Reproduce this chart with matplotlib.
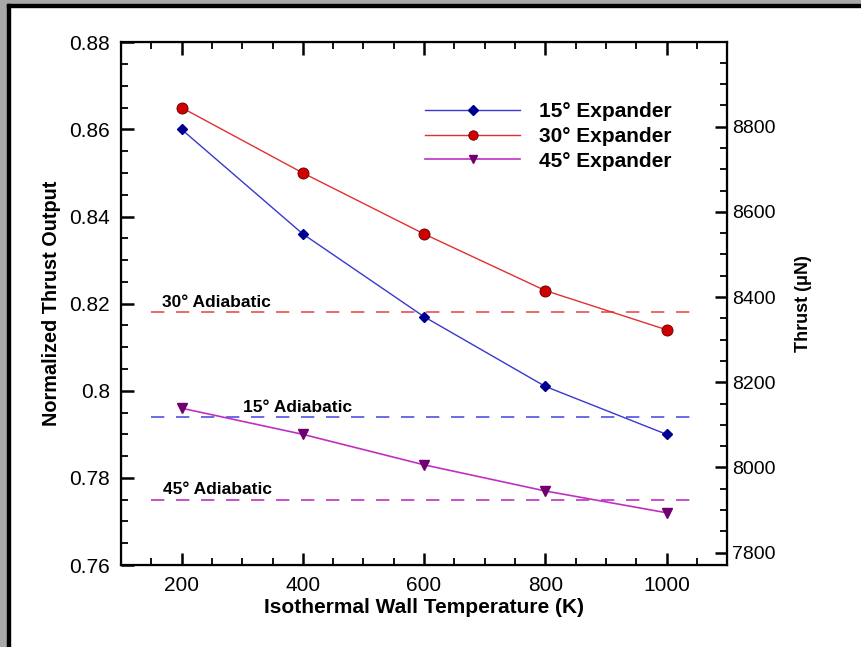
import matplotlib
matplotlib.use('Agg')
import matplotlib.pyplot as plt
from matplotlib.patches import Rectangle
from matplotlib.ticker import MultipleLocator

plt.rcParams['font.family'] = ['Liberation Sans', 'DejaVu Sans']

# data
temps = [200, 400, 600, 800, 1000]
exp15 = [0.860, 0.836, 0.817, 0.801, 0.790]
exp30 = [0.865, 0.850, 0.836, 0.823, 0.814]
exp45 = [0.796, 0.790, 0.783, 0.777, 0.772]
adia_x = [150, 1050]
adia15 = 0.794
adia30 = 0.818
adia45 = 0.775
thrust_per_unit = 10225  # right axis scale (uN per normalized unit)

fig = plt.figure(figsize=(8.61, 6.47), dpi=100)

# screenshot frame: gray strip + black line on top and left
fig.patches.append(Rectangle((0, 1 - 4/647), 1, 4/647, transform=fig.transFigure,
                             color='#a8a8a8', zorder=0))
fig.patches.append(Rectangle((0, 0), 7/861, 1, transform=fig.transFigure,
                             color='#a8a8a8', zorder=0))
fig.patches.append(Rectangle((7/861, 1 - 7/647), 1, 3/647, transform=fig.transFigure,
                             color='black', zorder=1))
fig.patches.append(Rectangle((7/861, 0), 3/861, 1 - 4/647, transform=fig.transFigure,
                             color='black', zorder=1))

ax = fig.add_axes([0.1405, 0.1267, 0.704, 0.808])

ax.plot(adia_x, [adia30, adia30], color='#e85050', lw=1.2, dashes=(8, 7))
ax.plot(adia_x, [adia15, adia15], color='#5050e0', lw=1.2, dashes=(8, 7))
ax.plot(adia_x, [adia45, adia45], color='#c030c0', lw=1.2, dashes=(8, 7))

l15, = ax.plot(temps, exp15, color='#3838d0', lw=1.0, marker='D', ms=5.5,
               mfc='#000090', mec='#000090')
l30, = ax.plot(temps, exp30, color='#e03030', lw=1.0, marker='o', ms=8,
               mfc='#d00000', mec='#600000', mew=0.6)
l45, = ax.plot(temps, exp45, color='#c030c0', lw=1.2, marker='v', ms=7,
               mfc='#700070', mec='#700070')

ax.text(168, adia30 + 0.0013, '30\u00b0 Adiabatic', fontsize=12.5, fontweight='bold')
ax.text(302, adia15 + 0.0012, '15\u00b0 Adiabatic', fontsize=12.5, fontweight='bold')
ax.text(170, adia45 + 0.0012, '45\u00b0 Adiabatic', fontsize=12.5, fontweight='bold')

ax.legend([l15, l30, l45],
          ['15\u00b0 Expander', '30\u00b0 Expander', '45\u00b0 Expander'],
          loc='upper left', bbox_to_anchor=(0.47, 0.921), frameon=False,
          prop={'weight': 'bold', 'size': 15}, handlelength=4.6, handletextpad=0.9,
          labelspacing=0.27, markerscale=0.85)

ax.set_xlim(100, 1100)
ax.set_ylim(0.76, 0.88)
ax.xaxis.set_major_locator(MultipleLocator(200))
ax.xaxis.set_minor_locator(MultipleLocator(50))
ax.yaxis.set_minor_locator(MultipleLocator(0.005))
ax.set_yticks([0.76, 0.78, 0.8, 0.82, 0.84, 0.86, 0.88])
ax.set_yticklabels(['0.76', '0.78', '0.8', '0.82', '0.84', '0.86', '0.88'])
ax.tick_params(which='both', direction='in', top=True, labelsize=15, width=1.3)
ax.tick_params(which='major', length=9, width=1.8)
ax.tick_params(which='minor', length=5)
ax.tick_params(axis='x', pad=8)
ax.tick_params(axis='y', pad=8)
ax.set_xlabel('Isothermal Wall Temperature (K)', fontsize=15, fontweight='bold', labelpad=2)
ax.set_ylabel('Normalized Thrust Output', fontsize=14.3, fontweight='bold', labelpad=6)
for s in ax.spines.values():
    s.set_linewidth(1.6)

ax2 = ax.twinx()
ax2.set_ylim(0.76 * thrust_per_unit, 0.88 * thrust_per_unit)
ax2.yaxis.set_major_locator(MultipleLocator(200))
ax2.yaxis.set_minor_locator(MultipleLocator(50))
ax2.tick_params(which='both', direction='in', labelsize=14)
ax2.tick_params(which='major', length=9, width=1.8)
ax2.tick_params(which='minor', length=5, width=1.3)
ax2.set_ylabel('Thrust (\u03bcN)', fontsize=13, fontweight='bold', labelpad=14)
ax.tick_params(axis='y', right=False)

fig.savefig('out.png', dpi=100)
